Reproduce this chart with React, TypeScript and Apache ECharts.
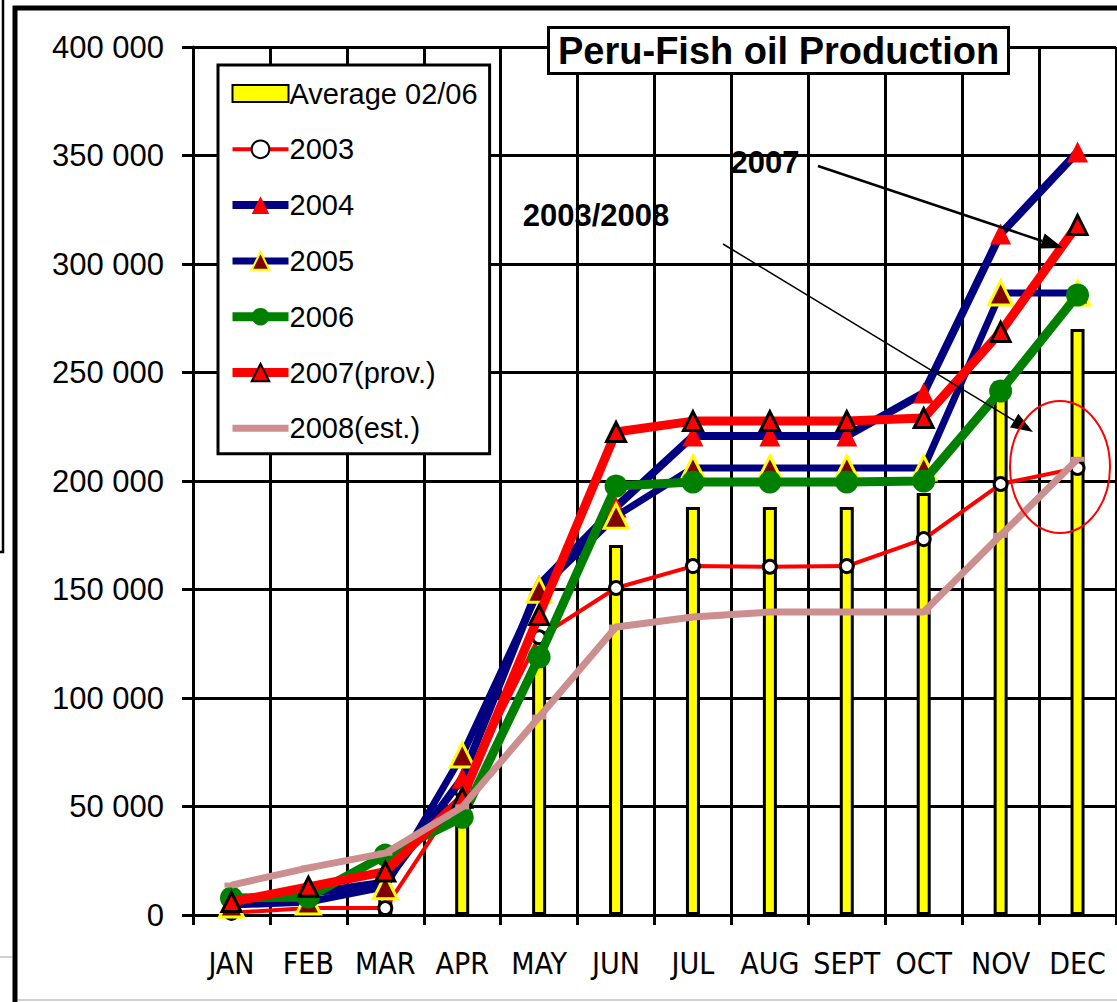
import React, { useEffect, useRef } from 'react';
import * as echarts from 'echarts';

const months = ['JAN', 'FEB', 'MAR', 'APR', 'MAY', 'JUN', 'JUL', 'AUG', 'SEPT', 'OCT', 'NOV', 'DEC'];
const avg0206 = [2000, 3000, 10000, 45000, 117000, 170500, 188000, 188000, 188000, 194500, 246000, 270000];
const y2003 = [1000, 3200, 3200, 57000, 128000, 150700, 160800, 160500, 160800, 173200, 198600, 206000];
const y2004 = [6000, 10000, 15000, 63000, 152000, 188000, 220700, 220700, 220700, 240500, 313800, 351600];
const y2005 = [4600, 6000, 13000, 73700, 149700, 183800, 206000, 206000, 206000, 206000, 286600, 286600];
const y2006 = [7800, 8300, 27600, 45000, 118900, 197700, 199500, 199500, 199500, 200000, 241500, 285700];
const y2007 = [6000, 13000, 20000, 54000, 138200, 222600, 227600, 227600, 227600, 229000, 268700, 318000];
const y2008 = [13800, 21700, 28500, 49800, 91200, 132700, 137300, 139600, 139600, 139600, 175000, 210000];
const yMin = 0;
const yMax = 400000;
const yStep = 50000;

const FONT = '"Liberation Sans", Arial, Helvetica, sans-serif';
const NARROW = '"Liberation Sans Narrow", "Arial Narrow", "DejaVu Sans Condensed", sans-serif';

function arrow(x1: number, y1: number, x2: number, y2: number, len: number, half: number, lw: number) {
  const dx = x2 - x1;
  const dy = y2 - y1;
  const L = Math.hypot(dx, dy);
  const ux = dx / L;
  const uy = dy / L;
  const bx = x2 - ux * len;
  const by = y2 - uy * len;
  return [
    { type: 'line', z: 100, shape: { x1, y1, x2: bx, y2: by }, style: { stroke: '#000', lineWidth: lw } },
    {
      type: 'polygon',
      z: 100,
      shape: { points: [[x2, y2], [bx - uy * half, by + ux * half], [bx + uy * half, by - ux * half]] },
      style: { fill: '#000' },
    },
  ];
}

export default function App() {
  const ref = useRef<HTMLDivElement>(null);
  useEffect(() => {
    document.body.style.margin = '0';
    const chart = echarts.init(ref.current!, null, { renderer: 'svg' });
    const fmt = (v: number) => String(v).replace(/\B(?=(\d{3})+(?!\d))/g, ' ');
    chart.setOption({
      animation: false,
      backgroundColor: '#fff',
      title: {
        text: 'Peru-Fish oil Production',
        left: 548,
        top: 27,
        padding: [5, 10, 4, 10],
        borderColor: '#000',
        borderWidth: 3,
        backgroundColor: '#fff',
        textStyle: { fontFamily: FONT, fontSize: 38, fontWeight: 'bold', color: '#000' },
      },
      legend: {
        orient: 'vertical',
        left: 218,
        top: 65,
        backgroundColor: '#fff',
        borderColor: '#000',
        borderWidth: 3,
        padding: [14, 12, 11, 10],
        itemWidth: 56,
        itemHeight: 22,
        itemGap: 26.8,
        textStyle: { fontFamily: FONT, fontSize: 29, color: '#000', padding: [0, 0, 0, -4] },
        data: [
          { name: 'Average 02/06', icon: 'path://M0,0H56V17H0Z' },
          { name: '2003', lineStyle: { width: 4 } },
          { name: '2004', lineStyle: { width: 8 } },
          { name: '2005', lineStyle: { width: 7 } },
          { name: '2006', lineStyle: { width: 9 } },
          { name: '2007(prov.)', lineStyle: { width: 9 } },
          { name: '2008(est.)', icon: 'path://M0,0H56V7H0Z', itemStyle: { color: '#CC8E8E' } },
        ],
      },
      grid: { left: 193, right: 1, top: 47, bottom: 87 },
      xAxis: {
        type: 'category',
        data: months,
        boundaryGap: true,
        axisLine: { show: true, lineStyle: { color: '#000', width: 3 } },
        axisTick: { show: true, length: 10, lineStyle: { color: '#000', width: 3 } },
        splitLine: { show: true, lineStyle: { color: '#000', width: 3 } },
        axisLabel: { interval: 0, fontFamily: NARROW, fontSize: 30, color: '#000', margin: 33 },
      },
      yAxis: {
        type: 'value',
        min: yMin,
        max: yMax,
        interval: yStep,
        axisLine: { show: true, lineStyle: { color: '#000', width: 3 } },
        axisTick: { show: true, length: 11, lineStyle: { color: '#000', width: 3 } },
        splitLine: { show: true, lineStyle: { color: '#000', width: 3 } },
        axisLabel: { fontFamily: FONT, fontSize: 31, color: '#000', margin: 29, formatter: fmt },
      },
      series: [
        {
          name: 'Average 02/06',
          type: 'bar',
          data: avg0206,
          barWidth: 14,
          itemStyle: { color: '#FFFF00', borderColor: '#000', borderWidth: 3 },
          z: 1,
        },
        {
          name: '2003',
          type: 'line',
          data: y2003,
          symbol: 'circle',
          symbolSize: 13,
          lineStyle: { color: '#FF0000', width: 4 },
          itemStyle: { color: '#FFFFFF', borderColor: '#000', borderWidth: 3 },
          z: 3,
        },
        {
          name: '2004',
          type: 'line',
          data: y2004,
          symbol: 'triangle',
          symbolSize: 21,
          lineStyle: { color: '#000080', width: 8 },
          itemStyle: { color: '#FF0000', borderWidth: 0 },
          z: 4,
        },
        {
          name: '2005',
          type: 'line',
          data: y2005,
          symbol: 'triangle',
          symbolSize: 24,
          lineStyle: { color: '#000080', width: 7 },
          itemStyle: { color: '#800000', borderColor: '#FFFF00', borderWidth: 3 },
          z: 5,
        },
        {
          name: '2006',
          type: 'line',
          data: y2006,
          symbol: 'circle',
          symbolSize: 23,
          lineStyle: { color: '#008000', width: 9 },
          itemStyle: { color: '#008000', borderWidth: 0 },
          z: 6,
        },
        {
          name: '2007(prov.)',
          type: 'line',
          data: y2007,
          symbol: 'triangle',
          symbolSize: 19,
          lineStyle: { color: '#FF0000', width: 9 },
          itemStyle: { color: '#FF0000', borderColor: '#000', borderWidth: 3 },
          z: 7,
        },
        {
          name: '2008(est.)',
          type: 'line',
          data: y2008,
          symbol: 'rect',
          symbolSize: [14, 5],
          lineStyle: { color: '#CC8E8E', width: 7 },
          itemStyle: { color: '#CC8E8E', borderWidth: 0 },
          z: 8,
        },
      ],
      graphic: [
        { type: 'rect', z: 100, shape: { x: 15, y: 8, width: 1300, height: 1200 }, style: { fill: 'none', stroke: '#000', lineWidth: 5 } },
        { type: 'polyline', z: 100, shape: { points: [[0, 552], [3, 552], [3, 0]] }, style: { fill: 'none', stroke: '#000', lineWidth: 2.5 } },
        { type: 'line', z: 100, shape: { x1: 0, y1: 957, x2: 12, y2: 957 }, style: { stroke: '#d0d0d0', lineWidth: 2 } },
        { type: 'line', z: 100, shape: { x1: 18, y1: 1000, x2: 1117, y2: 1000 }, style: { stroke: '#d0d0d0', lineWidth: 2 } },
        {
          type: 'text',
          z: 100,
          x: 765,
          y: 162,
          style: { text: '2007', fontFamily: FONT, fontSize: 31, fontWeight: 'bold', fill: '#000', align: 'center', verticalAlign: 'middle' },
        },
        {
          type: 'text',
          z: 100,
          x: 596,
          y: 215,
          style: { text: '2003/2008', fontFamily: FONT, fontSize: 31, fontWeight: 'bold', fill: '#000', align: 'center', verticalAlign: 'middle' },
        },
        ...arrow(818, 166, 1063, 248, 22, 8, 2.5),
        ...arrow(723, 244, 1033, 432, 22, 8, 1.5),
        {
          type: 'ellipse',
          z: 100,
          shape: { cx: 1060, cy: 467, rx: 50, ry: 66 },
          style: { fill: 'none', stroke: '#FF0000', lineWidth: 2 },
        },
      ],
    });
    return () => chart.dispose();
  }, []);
  return <div ref={ref} style={{ position: 'absolute', left: 0, top: 0, width: 1117, height: 1002 }} />;
}
